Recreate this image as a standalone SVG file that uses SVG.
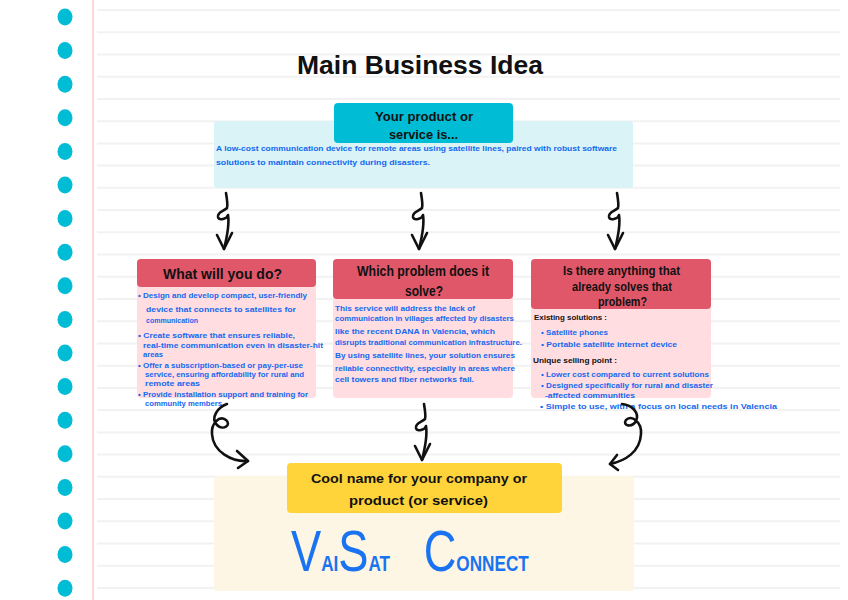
<svg xmlns="http://www.w3.org/2000/svg" xmlns:xlink="http://www.w3.org/1999/xlink" width="848" height="600" viewBox="0 0 848 600">
<style>
.hd{font-family:"Liberation Sans","DejaVu Sans",sans-serif;font-weight:bold;fill:#111;}
.hw{font-family:"Liberation Sans","DejaVu Sans",sans-serif;font-size:7.6px;fill:#1668f0;font-weight:bold;}
.hk{font-family:"Liberation Sans","DejaVu Sans",sans-serif;font-size:7.8px;fill:#111;font-weight:bold;}
.arr{fill:none;stroke:#111;stroke-width:2.6;stroke-linecap:round;stroke-linejoin:round;}
.dot{fill:#00bcd4;}
.big{font-size:58px;font-weight:normal;}
.sm{font-size:22px;font-weight:bold;text-transform:uppercase;}
</style>
<defs>
<g id="sq">
<path class="arr" d="M0 0 C 1 6, 2 12, 1 15 C -2 18, -9 19, -8 24 C -7 28, 1 26, 2 22 C 3 28, 2 40, -2 56"/>
<path class="arr" d="M-9 42 L -2 56 L 6 40"/>
</g>
</defs>
<rect x="0" y="0" width="848" height="600" fill="#ffffff"/>
<g id="paper">
<path d="M97 10H840M97 32.2H840M97 54.5H840M97 76.7H840M97 98.9H840M97 121.2H840M97 143.4H840M97 165.6H840M97 187.8H840M97 210.1H840M97 232.3H840M97 254.5H840M97 276.8H840M97 299H840M97 321.2H840M97 343.5H840M97 365.7H840M97 387.9H840M97 410.1H840M97 432.4H840M97 454.6H840M97 476.8H840M97 499.1H840M97 521.3H840M97 543.5H840M97 565.8H840M97 588H840" stroke="#f2f2f2" stroke-width="2" fill="none"/>
<line x1="93" y1="0" x2="93" y2="600" stroke="#ffd6da" stroke-width="2"/>
<ellipse class="dot" cx="65" cy="17" rx="7.5" ry="8.5"/>
<ellipse class="dot" cx="65" cy="50.6" rx="7.5" ry="8.5"/>
<ellipse class="dot" cx="65" cy="84.2" rx="7.5" ry="8.5"/>
<ellipse class="dot" cx="65" cy="117.8" rx="7.5" ry="8.5"/>
<ellipse class="dot" cx="65" cy="151.4" rx="7.5" ry="8.5"/>
<ellipse class="dot" cx="65" cy="185" rx="7.5" ry="8.5"/>
<ellipse class="dot" cx="65" cy="218.6" rx="7.5" ry="8.5"/>
<ellipse class="dot" cx="65" cy="252.2" rx="7.5" ry="8.5"/>
<ellipse class="dot" cx="65" cy="285.8" rx="7.5" ry="8.5"/>
<ellipse class="dot" cx="65" cy="319.4" rx="7.5" ry="8.5"/>
<ellipse class="dot" cx="65" cy="353" rx="7.5" ry="8.5"/>
<ellipse class="dot" cx="65" cy="386.6" rx="7.5" ry="8.5"/>
<ellipse class="dot" cx="65" cy="420.2" rx="7.5" ry="8.5"/>
<ellipse class="dot" cx="65" cy="453.8" rx="7.5" ry="8.5"/>
<ellipse class="dot" cx="65" cy="487.4" rx="7.5" ry="8.5"/>
<ellipse class="dot" cx="65" cy="521" rx="7.5" ry="8.5"/>
<ellipse class="dot" cx="65" cy="554.6" rx="7.5" ry="8.5"/>
<ellipse class="dot" cx="65" cy="588.2" rx="7.5" ry="8.5"/>
</g>
<g id="title">
<text class="hd" x="297" y="74" font-size="26" textLength="246" lengthAdjust="spacingAndGlyphs">Main Business Idea</text>
</g>
<g id="product">
<rect x="214" y="121" width="419" height="67" rx="3" fill="#d9f3f7"/>
<rect x="334" y="103" width="179" height="40" rx="4" fill="#00bcd4"/>
<text class="hd" x="375" y="121" font-size="13" textLength="98" lengthAdjust="spacingAndGlyphs">Your product or</text>
<text class="hd" x="389" y="139" font-size="13" textLength="69" lengthAdjust="spacingAndGlyphs">service is...</text>
<text class="hw" x="216" y="151" textLength="401" lengthAdjust="spacingAndGlyphs">A low-cost communication device for remote areas using satellite lines, paired with robust software</text>
<text class="hw" x="216" y="165" textLength="214" lengthAdjust="spacingAndGlyphs">solutions to maintain connectivity during disasters.</text>
</g>
<g id="do">
<rect x="137" y="259" width="179" height="139" rx="4" fill="#ffdde1"/>
<rect x="137" y="259" width="179" height="28" rx="4" fill="#e0576a"/>
<text class="hd" x="163" y="279" font-size="14" textLength="119" lengthAdjust="spacingAndGlyphs">What will you do?</text>
<text class="hw" x="138" y="298" textLength="169" lengthAdjust="spacingAndGlyphs">• Design and develop compact, user-friendly</text>
<text class="hw" x="146" y="312" textLength="150" lengthAdjust="spacingAndGlyphs">device that connects to satellites for</text>
<text class="hw" x="146" y="323" textLength="52" lengthAdjust="spacingAndGlyphs">communication</text>
<text class="hw" x="138" y="338" textLength="157" lengthAdjust="spacingAndGlyphs">• Create software that ensures reliable,</text>
<text class="hw" x="143" y="347.5" textLength="180" lengthAdjust="spacingAndGlyphs">real-time communication even in disaster-hit</text>
<text class="hw" x="143" y="356.5" textLength="20" lengthAdjust="spacingAndGlyphs">areas</text>
<text class="hw" x="138" y="367.5" textLength="165" lengthAdjust="spacingAndGlyphs">• Offer a subscription-based or pay-per-use</text>
<text class="hw" x="145" y="376.5" textLength="159" lengthAdjust="spacingAndGlyphs">service, ensuring affordability for rural and</text>
<text class="hw" x="145" y="385.5" textLength="55" lengthAdjust="spacingAndGlyphs">remote areas</text>
<text class="hw" x="138" y="396.5" textLength="170" lengthAdjust="spacingAndGlyphs">• Provide installation support and training for</text>
<text class="hw" x="145" y="405.5" textLength="77" lengthAdjust="spacingAndGlyphs">community members</text>
</g>
<g id="problem">
<rect x="333" y="259" width="180" height="139" rx="4" fill="#ffdde1"/>
<rect x="333" y="259" width="180" height="40" rx="4" fill="#e0576a"/>
<text class="hd" x="357" y="276" font-size="14" textLength="132" lengthAdjust="spacingAndGlyphs">Which problem does it</text>
<text class="hd" x="405" y="296" font-size="14" textLength="38" lengthAdjust="spacingAndGlyphs">solve?</text>
<text class="hw" x="335" y="311" textLength="140" lengthAdjust="spacingAndGlyphs">This service will address the lack of</text>
<text class="hw" x="335" y="321" textLength="179" lengthAdjust="spacingAndGlyphs">communication in villages affected by disasters</text>
<text class="hw" x="335" y="334" textLength="160" lengthAdjust="spacingAndGlyphs">like the recent DANA in Valencia, which</text>
<text class="hw" x="335" y="345" textLength="187" lengthAdjust="spacingAndGlyphs">disrupts traditional communication infrastructure.</text>
<text class="hw" x="335" y="358" textLength="180" lengthAdjust="spacingAndGlyphs">By using satellite lines, your solution ensures</text>
<text class="hw" x="335" y="371" textLength="180" lengthAdjust="spacingAndGlyphs">reliable connectivity, especially in areas where</text>
<text class="hw" x="335" y="382" textLength="139" lengthAdjust="spacingAndGlyphs">cell towers and fiber networks fail.</text>
</g>
<g id="existing">
<rect x="531" y="259" width="180" height="139" rx="4" fill="#ffdde1"/>
<rect x="531" y="259" width="180" height="50" rx="4" fill="#e0576a"/>
<text class="hd" x="563" y="275" font-size="13.5" textLength="117" lengthAdjust="spacingAndGlyphs">Is there anything that</text>
<text class="hd" x="572" y="291" font-size="13.5" textLength="100" lengthAdjust="spacingAndGlyphs">already solves that</text>
<text class="hd" x="598" y="306" font-size="13.5" textLength="49" lengthAdjust="spacingAndGlyphs">problem?</text>
<text class="hk" x="534" y="320" textLength="73" lengthAdjust="spacingAndGlyphs">Existing solutions :</text>
<text class="hw" x="541" y="335" textLength="67" lengthAdjust="spacingAndGlyphs">• Satellite phones</text>
<text class="hw" x="541" y="347" textLength="136" lengthAdjust="spacingAndGlyphs">• Portable satellite internet device</text>
<text class="hk" x="533" y="363" textLength="84" lengthAdjust="spacingAndGlyphs">Unique selling point :</text>
<text class="hw" x="541" y="377" textLength="168" lengthAdjust="spacingAndGlyphs">• Lower cost compared to current solutions</text>
<text class="hw" x="541" y="388" textLength="172" lengthAdjust="spacingAndGlyphs">• Designed specifically for rural and disaster</text>
<text class="hw" x="545" y="398" textLength="90" lengthAdjust="spacingAndGlyphs">-affected communities</text>
<text class="hw" x="540" y="409" textLength="237" lengthAdjust="spacingAndGlyphs">• Simple to use, with a focus on local needs in Valencia</text>
</g>
<g id="name">
<rect x="214" y="476" width="420" height="115" rx="3" fill="#fdf6e4"/>
<rect x="287" y="463" width="275" height="50" rx="4" fill="#ffd43b"/>
<text class="hd" x="311" y="483" font-size="13.5" textLength="216" lengthAdjust="spacingAndGlyphs">Cool name for your company or</text>
<text class="hd" x="349" y="505" font-size="13.5" textLength="139" lengthAdjust="spacingAndGlyphs">product (or service)</text>
<text transform="translate(291,571) scale(0.78,1)" x="0" y="0" font-family="Liberation Sans, DejaVu Sans, sans-serif" fill="#1a73f0"><tspan class="big">V</tspan><tspan class="sm">ai</tspan><tspan class="big">S</tspan><tspan class="sm">at</tspan><tspan class="big" dx="27"> C</tspan><tspan class="sm">onnect</tspan></text>
</g>
<g id="connectors">
<use xlink:href="#sq" href="#sq" x="226" y="193"/>
<use xlink:href="#sq" href="#sq" x="421" y="193"/>
<use xlink:href="#sq" href="#sq" x="617" y="193"/>
<use xlink:href="#sq" href="#sq" x="424" y="404"/>
<path class="arr" d="M227 404 C 218 407, 210 418, 217 425 C 223 431, 232 425, 226 420 C 219 415, 211 424, 212 434 C 213 452, 232 462, 248 461"/>
<path class="arr" d="M237 451 L 248 461 L 238 468"/>
<path class="arr" d="M622 404 C 632 405, 640 413, 636 421 C 632 428, 622 426, 626 420 C 631 414, 642 422, 641 434 C 640 452, 625 461, 610 464"/>
<path class="arr" d="M617 455 L 610 464 L 618 470"/>
</g>
</svg>
